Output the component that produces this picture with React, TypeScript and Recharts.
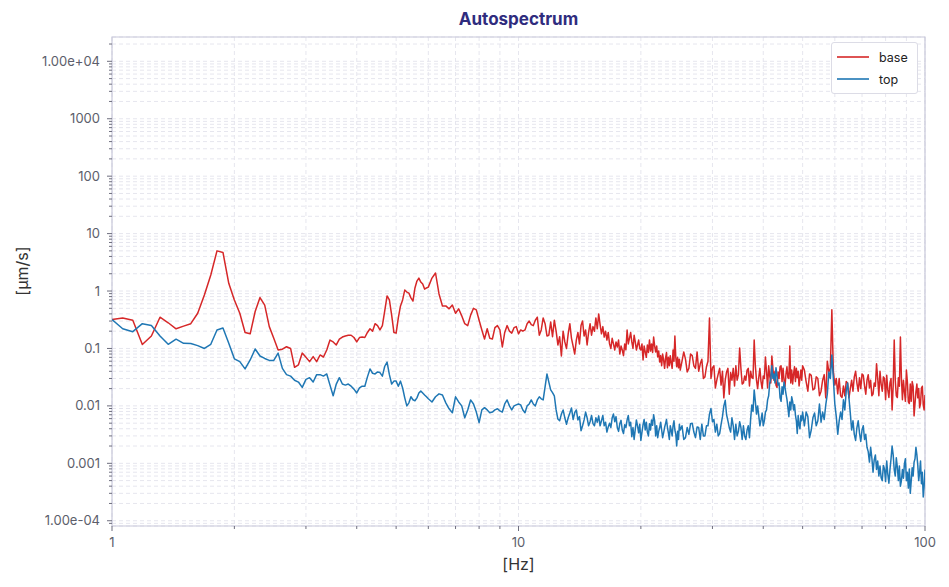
import React from 'react'
import {
  LineChart,
  Line,
  XAxis,
  YAxis,
  CartesianGrid,
  Legend,
  ReferenceArea
} from 'recharts'

// 1 - 12 Hz
const freqA = [
  1, 1.0625, 1.125, 1.1875, 1.25, 1.3125, 1.375, 1.4375, 1.5, 1.5625, 1.625, 1.6875, 1.75, 1.8125, 1.875, 1.9375,
  2, 2.0625, 2.125, 2.1875, 2.25, 2.3125, 2.375, 2.4375, 2.5, 2.5625, 2.625, 2.6875, 2.75, 2.8125, 2.875, 2.9375,
  3, 3.0625, 3.125, 3.1875, 3.25,
  3.3125, 3.375, 3.4375, 3.5, 3.5625, 3.625, 3.6875, 3.75, 3.8125, 3.875, 3.9375, 4, 4.0625, 4.125, 4.1875,
  4.25, 4.3125, 4.375, 4.4375, 4.5, 4.5625, 4.625, 4.6875, 4.75, 4.8125, 4.875, 4.9375, 5, 5.0625, 5.125, 5.1875,
  5.25, 5.3125, 5.375, 5.4375, 5.5, 5.5625, 5.625, 5.6875, 5.75, 5.8125, 5.875, 5.9375, 6,
  6.125, 6.25, 6.375, 6.5, 6.625, 6.75, 6.875, 7, 7.125, 7.25, 7.375, 7.5, 7.625, 7.75, 7.875, 8,
  8.125, 8.25, 8.375, 8.5, 8.625, 8.75, 8.875, 9, 9.125, 9.25, 9.375, 9.5, 9.625, 9.75, 9.875, 10,
  10.125, 10.25, 10.375, 10.5, 10.625, 10.75, 10.875, 11, 11.125, 11.25, 11.375, 11.5, 11.625, 11.75, 11.875, 12
]
const baseA = [
  0.32, 0.34, 0.31, 0.117, 0.165, 0.35, 0.28, 0.22, 0.245, 0.27, 0.41, 0.85, 1.9, 5.0, 4.7, 1.36,
  0.70, 0.41, 0.19, 0.18, 0.44, 0.77, 0.57, 0.24, 0.15, 0.094, 0.097, 0.107, 0.1, 0.047, 0.052, 0.083,
  0.07, 0.059, 0.072, 0.059, 0.077,
  0.071, 0.094, 0.14, 0.13, 0.115, 0.145, 0.158, 0.165, 0.17, 0.17, 0.155, 0.13, 0.155, 0.158, 0.155,
  0.19, 0.22, 0.2, 0.27, 0.25, 0.21, 0.25, 0.45, 0.82, 0.70, 0.38, 0.19, 0.185, 0.34, 0.55, 0.70,
  1.04, 0.96, 0.92, 0.76, 0.67, 1.13, 1.49, 1.68, 1.43, 1.32, 1.08, 1.13, 1.17,
  1.68, 2.06, 0.89, 0.55, 0.55, 0.49, 0.57, 0.41, 0.49, 0.37, 0.27, 0.25, 0.38, 0.5, 0.47, 0.31,
  0.21, 0.146, 0.22, 0.15, 0.146, 0.23, 0.25, 0.21, 0.106, 0.19, 0.25, 0.2, 0.185, 0.23, 0.24, 0.18,
  0.21, 0.2, 0.21, 0.27, 0.3, 0.26, 0.25, 0.31, 0.35, 0.17, 0.21, 0.34, 0.27, 0.165, 0.17, 0.29
]
const topA = [
  0.32, 0.22, 0.196, 0.27, 0.25, 0.165, 0.118, 0.145, 0.123, 0.122, 0.112, 0.1, 0.118, 0.21, 0.227, 0.123,
  0.066, 0.059, 0.044, 0.063, 0.098, 0.074, 0.067, 0.062, 0.062, 0.083, 0.045, 0.035, 0.033, 0.028, 0.026, 0.021,
  0.029, 0.031, 0.026, 0.035, 0.035,
  0.033, 0.036, 0.023, 0.015, 0.024, 0.031, 0.024, 0.023, 0.024, 0.022, 0.0196, 0.0168, 0.0205, 0.022, 0.022,
  0.032, 0.044, 0.037, 0.036, 0.039, 0.038, 0.033, 0.049, 0.058, 0.035, 0.024, 0.027, 0.027, 0.022, 0.027, 0.0205,
  0.0138, 0.01, 0.0113, 0.0144, 0.0128, 0.0123, 0.0138, 0.0168, 0.0182, 0.0168, 0.0155, 0.0144, 0.0133,
  0.0117, 0.0144, 0.0162, 0.0155, 0.0113, 0.0089, 0.0076, 0.0144, 0.0117, 0.01, 0.0062, 0.0085, 0.0127, 0.0108, 0.0078, 0.0051,
  0.0085, 0.0093, 0.0085, 0.0076, 0.0078, 0.0085, 0.0089, 0.0082, 0.0078, 0.0108, 0.0127, 0.01, 0.0085, 0.01, 0.0104, 0.0108,
  0.0104, 0.0085, 0.0076, 0.01, 0.0108, 0.0127, 0.0108, 0.01, 0.0127, 0.0144, 0.0133, 0.0127, 0.0214, 0.036, 0.026, 0.019
]

// 12 - 25 Hz
const freqB = [
  12.125, 12.25, 12.375, 12.5, 12.625, 12.75, 12.875, 13, 13.125, 13.25, 13.375, 13.5, 13.625, 13.75, 13.875, 14,
  14.125, 14.25, 14.375, 14.5, 14.625, 14.75, 14.875, 15, 15.125, 15.25, 15.375, 15.5, 15.625, 15.75, 15.875, 16,
  16.125, 16.25, 16.375, 16.5, 16.625, 16.75, 16.875, 17, 17.125, 17.25, 17.375, 17.5, 17.625, 17.75, 17.875, 18,
  18.125, 18.25, 18.375, 18.5, 18.625, 18.75, 18.875, 19, 19.125, 19.25, 19.375, 19.5, 19.625, 19.75, 19.875, 20,
  20.125, 20.25, 20.375, 20.5, 20.625, 20.75, 20.875, 21, 21.125, 21.25, 21.375, 21.5, 21.625, 21.75, 21.875, 22,
  22.125, 22.25, 22.375, 22.5, 22.625, 22.75, 22.875, 23, 23.125, 23.25, 23.375, 23.5, 23.625, 23.75, 23.875, 24,
  24.125, 24.25, 24.375, 24.5, 24.625, 24.75, 24.875, 25
]
const baseB = [
  0.16, 0.31, 0.2, 0.115, 0.16, 0.074, 0.2, 0.13, 0.1, 0.18, 0.27, 0.15, 0.11, 0.08, 0.14, 0.19,
  0.12, 0.25, 0.3, 0.165, 0.21, 0.115, 0.19, 0.27, 0.17, 0.24, 0.2, 0.34, 0.22, 0.4, 0.26, 0.18,
  0.24, 0.158, 0.2, 0.14, 0.19, 0.12, 0.1, 0.15, 0.12, 0.094, 0.13, 0.106, 0.14, 0.08, 0.11, 0.094,
  0.075, 0.12, 0.095, 0.21, 0.12, 0.15, 0.19, 0.13, 0.1, 0.17, 0.13, 0.094, 0.115, 0.14, 0.1, 0.094,
  0.12, 0.063, 0.11, 0.087, 0.07, 0.115, 0.085, 0.14, 0.09, 0.12, 0.085, 0.158, 0.11, 0.087, 0.11, 0.071,
  0.09, 0.058, 0.075, 0.05, 0.08, 0.063, 0.045, 0.068, 0.085, 0.046, 0.07, 0.05, 0.075, 0.056, 0.045, 0.094,
  0.06, 0.165, 0.07, 0.048, 0.07, 0.046, 0.065, 0.042
]
const topB = [
  0.017, 0.015, 0.0085, 0.0059, 0.0055, 0.0072, 0.0085, 0.0062, 0.0048, 0.0062, 0.0075, 0.0092, 0.0058, 0.0076, 0.0085, 0.0057,
  0.0065, 0.0037, 0.0045, 0.0057, 0.0078, 0.0062, 0.0045, 0.0053, 0.0068, 0.0049, 0.0045, 0.0062, 0.0052, 0.0067, 0.0045, 0.0055,
  0.0068, 0.0045, 0.0052, 0.0035, 0.0043, 0.005, 0.0042, 0.0062, 0.0072, 0.0053, 0.0065, 0.0042, 0.0036, 0.0049, 0.0056, 0.0038,
  0.0033, 0.0047, 0.0042, 0.0057, 0.0068, 0.0045, 0.0052, 0.0029, 0.0042, 0.0026, 0.0039, 0.0057, 0.0045, 0.0034, 0.0048, 0.0025,
  0.0035, 0.0047, 0.0058, 0.0038, 0.0052, 0.0035, 0.003, 0.0049, 0.0038, 0.0057, 0.0046, 0.007, 0.0055, 0.003, 0.0045, 0.0028,
  0.0036, 0.0042, 0.0052, 0.0038, 0.0028, 0.0034, 0.0042, 0.0049, 0.0058, 0.0042, 0.0034, 0.0026, 0.0045, 0.0038, 0.003, 0.0045,
  0.0055, 0.0038, 0.0032, 0.002, 0.0036, 0.0026, 0.0048, 0.0038
]

// 25 - 50 Hz
const freqC = [
  25.25, 25.5, 25.75, 26, 26.25, 26.5, 26.75, 27, 27.25, 27.5, 27.75, 28, 28.25, 28.5, 28.75, 29,
  29.25, 29.5, 29.75, 30, 30.25, 30.5, 30.75, 31, 31.25, 31.5, 31.75, 32, 32.25, 32.5, 32.75, 33,
  33.25, 33.5, 33.75, 34, 34.25, 34.5, 34.75, 35, 35.25, 35.5, 35.75, 36, 36.25, 36.5, 36.75, 37,
  37.25, 37.5, 37.75, 38, 38.25, 38.5, 38.75, 39, 39.25, 39.5, 39.75, 40, 40.25, 40.5, 40.75, 41,
  41.25, 41.5, 41.75, 42, 42.25, 42.5, 42.75, 43, 43.25, 43.5, 43.75, 44, 44.25, 44.5, 44.75, 45,
  45.25, 45.5, 45.75, 46, 46.25, 46.5, 46.75, 47, 47.25, 47.5, 47.75, 48, 48.25, 48.5, 48.75, 49,
  49.25, 49.5, 49.75, 50
]
const baseC = [
  0.06, 0.087, 0.065, 0.039, 0.045, 0.08, 0.075, 0.05, 0.045, 0.087, 0.04, 0.054, 0.065, 0.03, 0.032, 0.048,
  0.06, 0.34, 0.03, 0.046, 0.05, 0.0205, 0.028, 0.036, 0.045, 0.023, 0.04, 0.0138, 0.028, 0.039, 0.045, 0.016,
  0.038, 0.028, 0.045, 0.0223, 0.05, 0.028, 0.035, 0.102, 0.045, 0.024, 0.025, 0.033, 0.028, 0.042, 0.045, 0.0223,
  0.04, 0.031, 0.03, 0.14, 0.05, 0.028, 0.02, 0.031, 0.045, 0.0265, 0.02, 0.033, 0.03, 0.071, 0.04, 0.0205,
  0.05, 0.033, 0.025, 0.074, 0.045, 0.028, 0.04, 0.023, 0.021, 0.039, 0.03, 0.048, 0.05, 0.0265, 0.045, 0.028,
  0.022, 0.036, 0.048, 0.031, 0.03, 0.11, 0.025, 0.042, 0.024, 0.036, 0.048, 0.0265, 0.045, 0.031, 0.04, 0.0223,
  0.03, 0.042, 0.028, 0.05
]
const topC = [
  0.0045, 0.0026, 0.0028, 0.0042, 0.0032, 0.0049, 0.005, 0.0035, 0.0028, 0.0043, 0.0042, 0.0026, 0.0048, 0.003, 0.003, 0.0045,
  0.0045, 0.0072, 0.009, 0.0053, 0.0058, 0.0035, 0.0048, 0.003, 0.0033, 0.0047, 0.0065, 0.01, 0.0125, 0.007, 0.0055, 0.0042,
  0.0035, 0.0062, 0.0045, 0.0026, 0.0048, 0.003, 0.0036, 0.0053, 0.0042, 0.0026, 0.0045, 0.003, 0.0026, 0.0038, 0.0045, 0.0028,
  0.006, 0.0104, 0.008, 0.019, 0.012, 0.0072, 0.01, 0.0067, 0.0045, 0.0057, 0.0075, 0.0045, 0.0055, 0.0078, 0.0085, 0.0127,
  0.015, 0.025, 0.03, 0.05, 0.03, 0.036, 0.025, 0.046, 0.033, 0.023, 0.025, 0.0138, 0.012, 0.0215, 0.016, 0.026,
  0.021, 0.0162, 0.013, 0.0093, 0.0065, 0.0117, 0.0085, 0.0144, 0.012, 0.0085, 0.0105, 0.007, 0.0055, 0.0033, 0.0068, 0.0047,
  0.004, 0.0067, 0.0055, 0.0078
]

// 50 - 100 Hz
const freqD = [
  50.5, 51, 51.5, 52, 52.5, 53, 53.5, 54, 54.5, 55, 55.5, 56, 56.5, 57, 57.5, 58, 58.5, 59, 59.5, 60,
  60.5, 61, 61.5, 62, 62.5, 63, 63.5, 64, 64.5, 65, 65.5, 66, 66.5, 67, 67.5, 68, 68.5, 69, 69.5, 70,
  70.5, 71, 71.5, 72, 72.5, 73, 73.5, 74, 74.5, 75, 75.5, 76, 76.5, 77, 77.5, 78, 78.5, 79, 79.5, 80,
  80.5, 81, 81.5, 82, 82.5, 83, 83.5, 84, 84.5, 85, 85.5, 86, 86.5, 87, 87.5, 88, 88.5, 89, 89.5, 90,
  90.5, 91, 91.5, 92, 92.5, 93, 93.5, 94, 94.5, 95, 95.5, 96, 96.5, 97, 97.5, 98, 98.5, 99, 99.5, 100
]
const baseD = [
  0.042, 0.0265, 0.018, 0.036, 0.034, 0.019, 0.02, 0.032, 0.03, 0.015, 0.018, 0.028, 0.035, 0.0138, 0.06, 0.039, 0.045, 0.47, 0.04, 0.023,
  0.03, 0.0162, 0.03, 0.015, 0.014, 0.0223, 0.015, 0.0265, 0.025, 0.0138, 0.02, 0.028, 0.018, 0.032, 0.04, 0.025, 0.018, 0.031, 0.02, 0.036,
  0.034, 0.0223, 0.016, 0.028, 0.035, 0.0205, 0.028, 0.015, 0.016, 0.025, 0.022, 0.054, 0.03, 0.015, 0.04, 0.024, 0.018, 0.032, 0.03, 0.0128,
  0.034, 0.019, 0.014, 0.025, 0.03, 0.0085, 0.022, 0.14, 0.028, 0.015, 0.014, 0.031, 0.022, 0.158, 0.03, 0.0128, 0.028, 0.0175, 0.012, 0.042,
  0.026, 0.0117, 0.011, 0.024, 0.012, 0.0265, 0.022, 0.0067, 0.011, 0.0175, 0.024, 0.0138, 0.02, 0.0093, 0.011, 0.0205, 0.022, 0.0104, 0.0085, 0.0155
]
const topD = [
  0.0045, 0.0078, 0.0065, 0.0028, 0.0038, 0.0062, 0.0075, 0.0045, 0.0055, 0.0108, 0.0052, 0.0078, 0.0058, 0.0104, 0.016, 0.039, 0.03, 0.077, 0.03, 0.0108,
  0.0065, 0.0032, 0.0055, 0.0078, 0.0058, 0.0128, 0.0085, 0.0182, 0.025, 0.0138, 0.0075, 0.0038, 0.0055, 0.0032, 0.0025, 0.0042, 0.0055, 0.0034, 0.0024, 0.0038,
  0.0045, 0.0026, 0.0032, 0.0019, 0.0016, 0.00105, 0.0019, 0.00125, 0.0007, 0.00115, 0.0014, 0.00078, 0.0011, 0.0006, 0.0009, 0.00056, 0.0005, 0.00092, 0.0008, 0.00048,
  0.0011, 0.00065, 0.00045, 0.00078, 0.0012, 0.002, 0.0014, 0.00078, 0.0006, 0.00125, 0.00085, 0.0005, 0.0009, 0.0004, 0.0005, 0.00078, 0.00055, 0.00098, 0.0012, 0.0005,
  0.0007, 0.00037, 0.0008, 0.0003, 0.0005, 0.00084, 0.0006, 0.00105, 0.0012, 0.0019, 0.0014, 0.00092, 0.0005, 0.00071, 0.0011, 0.00044, 0.0007, 0.00026, 0.0004, 0.00078
]

const seriesNames = ['base', 'top']
const seriesColors: Record<string, string> = { base: '#d62728', top: '#1f77b4' }

const yMajorTicks = [1e-4, 1e-3, 0.01, 0.1, 1, 10, 100, 1000, 1e4]
const yTickLabels = ['1.00e-04', '0.001', '0.01', '0.1', '1', '10', '100', '1000', '1.00e+04']
const xMajorTicks = [1, 10, 100]
const xTickLabels = ['1', '10', '100']
const minorSteps = [2, 3, 4, 5, 6, 7, 8, 9]

const Y_DOMAIN: [number, number] = [8.1e-5, 2.65e4]
const X_DOMAIN: [number, number] = [1, 100]
const TICK_GAP = 12
const FONT = "Inter, 'DejaVu Sans', sans-serif"

const freqHz = [...freqA, ...freqB, ...freqC, ...freqD]
const baseVel = [...baseA, ...baseB, ...baseC, ...baseD]
const topVel = [...topA, ...topB, ...topC, ...topD]
const data = freqHz.map((f, i) => ({ f, base: baseVel[i], top: topVel[i] }))

function withMinors(majors: number[], lo: number, hi: number) {
  const out: number[] = []
  const decades = [majors[0] / 10, ...majors]
  decades.forEach(d => {
    out.push(d)
    minorSteps.forEach(k => out.push(k * d))
  })
  return out.filter(v => v >= lo * 0.999 && v <= hi * 1.001).sort((a, b) => a - b)
}

const yTicks = withMinors(yMajorTicks, Y_DOMAIN[0], Y_DOMAIN[1])
const xTicks = withMinors(xMajorTicks, X_DOMAIN[0], X_DOMAIN[1])

function majorIndex(list: number[], v: number) {
  return list.findIndex(t => Math.abs(Math.log10(t) - Math.log10(v)) < 1e-6)
}

function YTick(props: any) {
  const { x, y, payload } = props
  const idx = majorIndex(yMajorTicks, payload.value)
  const edge = x + TICK_GAP
  const len = idx >= 0 ? 5 : 3
  return (
    <g>
      <line x1={edge - len} x2={edge} y1={y} y2={y} stroke="#6e6e7e" strokeWidth={1} />
      {idx >= 0 && (
        <text x={x} y={y} dy="0.35em" textAnchor="end" fontSize={13} fontFamily={FONT} fill="#5c5e6b">
          {yTickLabels[idx]}
        </text>
      )}
    </g>
  )
}

function XTick(props: any) {
  const { x, y, payload } = props
  const idx = majorIndex(xMajorTicks, payload.value)
  const edge = y - TICK_GAP
  const len = idx >= 0 ? 5 : 3
  return (
    <g>
      <line x1={x} x2={x} y1={edge} y2={edge + len} stroke="#6e6e7e" strokeWidth={1} />
      {idx >= 0 && (
        <text x={x} y={y} dy="0.71em" textAnchor="middle" fontSize={13} fontFamily={FONT} fill="#5c5e6b">
          {xTickLabels[idx]}
        </text>
      )}
    </g>
  )
}

function LegendBox() {
  return (
    <div
      style={{
        border: '1px solid #dcdce6',
        borderRadius: 3,
        background: '#fff',
        padding: '3px 6px 3px 5px',
        fontFamily: FONT,
        fontSize: 12.5,
        color: '#222'
      }}
    >
      {seriesNames.map(name => (
        <div key={name} style={{ display: 'flex', alignItems: 'center', height: 22 }}>
          <svg width={32} height={4} style={{ marginRight: 10, display: 'block' }}>
            <line x1={0} x2={32} y1={2} y2={2} stroke={seriesColors[name]} strokeWidth={1.6} />
          </svg>
          <span>{name}</span>
        </div>
      ))}
    </div>
  )
}

export default function App() {
  return (
    <div style={{ position: 'absolute', left: 0, top: 0, width: 949, height: 587, background: '#fff' }}>
      <div
        style={{
          position: 'absolute', left: 112, width: 813, top: 9, textAlign: 'center',
          fontFamily: FONT, fontWeight: 700, fontSize: 17, color: '#2f2c7e'
        }}
      >
        Autospectrum
      </div>
      <div
        style={{
          position: 'absolute', left: 112, width: 813, top: 554, textAlign: 'center',
          fontFamily: FONT, fontSize: 16, color: '#333'
        }}
      >
        [Hz]
      </div>
      <div
        style={{
          position: 'absolute', left: 22, top: 271, transform: 'translate(-50%, -50%) rotate(-90deg)',
          fontFamily: FONT, fontSize: 16, color: '#333', whiteSpace: 'nowrap'
        }}
      >
        [µm/s]
      </div>
      <LineChart width={949} height={587} data={data} margin={{ top: 37, right: 24, bottom: 31, left: 32 }}>
        <CartesianGrid stroke="#e6e6ee" strokeDasharray="4 3" />
        <XAxis
          dataKey="f"
          type="number"
          scale="log"
          domain={X_DOMAIN}
          allowDataOverflow
          ticks={xTicks}
          interval={0}
          height={30}
          axisLine={false}
          tickLine={false}
          tickSize={0}
          tickMargin={TICK_GAP}
          tick={<XTick />}
        />
        <YAxis
          type="number"
          scale="log"
          domain={Y_DOMAIN}
          allowDataOverflow
          ticks={yTicks}
          interval={0}
          width={80}
          axisLine={false}
          tickLine={false}
          tickSize={0}
          tickMargin={TICK_GAP}
          tick={<YTick />}
        />
        <ReferenceArea
          x1={X_DOMAIN[0]}
          x2={X_DOMAIN[1]}
          y1={Y_DOMAIN[0]}
          y2={Y_DOMAIN[1]}
          fill="none"
          stroke="#c8c8da"
          strokeWidth={1.2}
          ifOverflow="visible"
        />
        <Legend
          layout="vertical"
          align="center"
          verticalAlign="middle"
          wrapperStyle={{ position: 'absolute', top: 42, left: 831, width: 87 }}
          content={<LegendBox />}
        />
        {seriesNames.map(name => (
          <Line
            key={name}
            type="linear"
            dataKey={name}
            name={name}
            stroke={seriesColors[name]}
            strokeWidth={1.5}
            strokeLinejoin="round"
            dot={false}
            isAnimationActive={false}
          />
        ))}
      </LineChart>
    </div>
  )
}
